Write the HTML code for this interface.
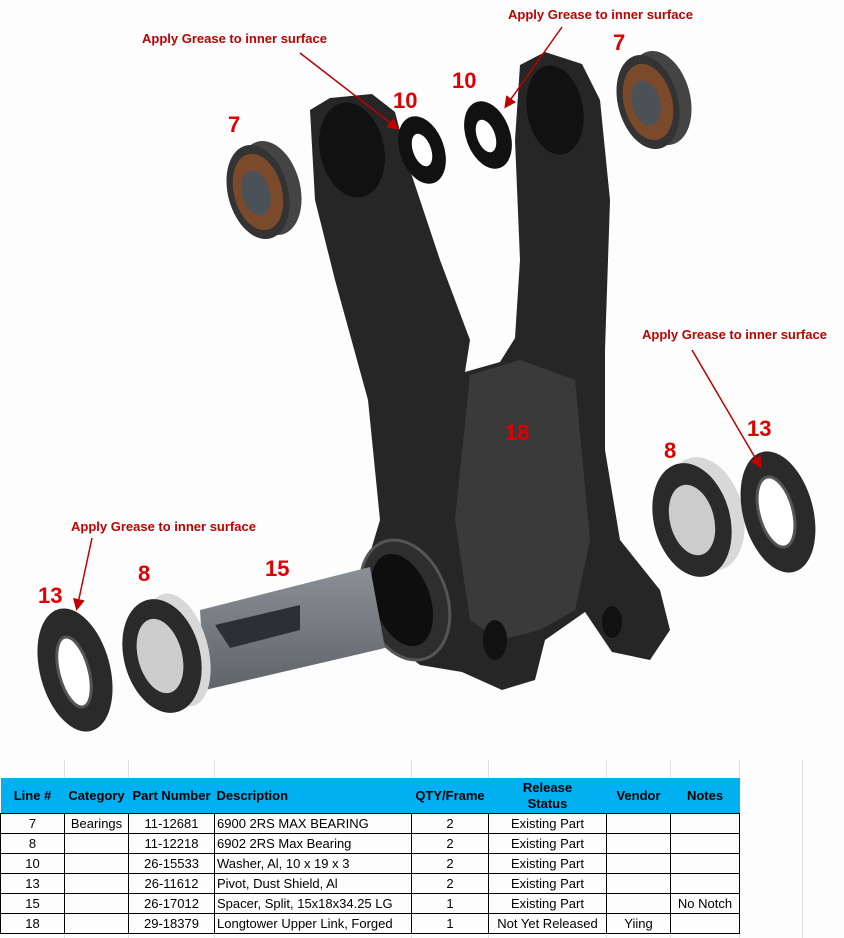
<!DOCTYPE html>
<html><head><meta charset="utf-8"><style>
body{margin:0;width:844px;height:938px;background:#fdfdfe;font-family:"Liberation Sans",sans-serif;overflow:hidden;position:relative}
svg{position:absolute;left:0;top:0}
table{position:absolute;left:0;top:778px;border-collapse:collapse;font-size:13px;table-layout:fixed}
td,th{height:19px;padding:0 2px;border:1px solid #000;white-space:nowrap;overflow:hidden}
th{background:#00b0f0;border:none;font-weight:bold;height:35px;line-height:16px}
.c{text-align:center}
.g{position:absolute;top:760px;height:178px;width:1px;background:#e0e0e0}
</style></head><body>
<svg width="844" height="760" viewBox="0 0 844 760">
<defs>
<marker id="ah" markerWidth="8" markerHeight="8" refX="6" refY="4" orient="auto"><path d="M0,0 L8,4 L0,8 z" fill="#c00000"/></marker>
<linearGradient id="sp" x1="0" y1="0" x2="0" y2="1"><stop offset="0" stop-color="#8a9096"/><stop offset="1" stop-color="#5e646a"/></linearGradient>
</defs>
<!-- link body -->
<path d="M310,110 L330,98 L372,94 L395,112 L410,170 L440,260 L470,340 L465,372 L500,362 L515,338 L520,260 L515,140 L520,65 L545,52 L582,64 L600,100 L610,200 L605,350 L605,450 L620,540 L660,590 L670,630 L650,660 L612,652 L585,612 L545,640 L535,680 L502,690 L462,672 L420,665 L388,640 L368,560 L380,520 L368,400 L335,280 L315,200 Z" fill="#262626"/>
<path d="M470,375 L520,360 L575,380 L590,540 L575,610 L540,630 L500,640 L470,620 L455,520 Z" fill="#3a3a3a"/>
<ellipse cx="352" cy="150" rx="32" ry="48" fill="#111" transform="rotate(-12 352 150)"/>
<ellipse cx="555" cy="110" rx="28" ry="45" fill="#111" transform="rotate(-10 555 110)"/>
<ellipse cx="405" cy="600" rx="42" ry="62" fill="#2e2e2e" stroke="#555" stroke-width="3" transform="rotate(-20 405 600)"/>
<ellipse cx="402" cy="600" rx="28" ry="48" fill="#0e0e0e" transform="rotate(-20 402 600)"/>
<ellipse cx="495" cy="640" rx="12" ry="20" fill="#111"/>
<ellipse cx="612" cy="622" rx="10" ry="16" fill="#111"/>
<!-- spacer 15 -->
<path d="M200,610 L370,567 L385,648 L205,690 Z" fill="url(#sp)"/>
<path d="M215,625 L300,605 L300,630 L230,648 Z" fill="#2c3034"/>
<!-- bearing 7 left -->
<ellipse cx="270" cy="188" rx="30" ry="48" fill="#444" transform="rotate(-15 270 188)"/>
<ellipse cx="258" cy="192" rx="30" ry="48" fill="#333" transform="rotate(-15 258 192)"/>
<ellipse cx="258" cy="192" rx="24" ry="39" fill="#7a4a2a" transform="rotate(-15 258 192)"/>
<ellipse cx="256" cy="193" rx="14" ry="23" fill="#4a5258" transform="rotate(-15 256 193)"/>
<!-- bearing 7 right -->
<ellipse cx="660" cy="98" rx="30" ry="48" fill="#444" transform="rotate(-15 660 98)"/>
<ellipse cx="648" cy="102" rx="30" ry="48" fill="#333" transform="rotate(-15 648 102)"/>
<ellipse cx="648" cy="102" rx="24" ry="39" fill="#7a4a2a" transform="rotate(-15 648 102)"/>
<ellipse cx="646" cy="103" rx="14" ry="23" fill="#4a5258" transform="rotate(-15 646 103)"/>
<!-- washers 10 -->
<ellipse cx="422" cy="150" rx="22" ry="35" fill="#111" transform="rotate(-20 422 150)"/>
<ellipse cx="422" cy="150" rx="9" ry="17" fill="#fff" transform="rotate(-20 422 150)"/>
<ellipse cx="488" cy="135" rx="22" ry="35" fill="#111" transform="rotate(-20 488 135)"/>
<ellipse cx="486" cy="136" rx="9" ry="17" fill="#fff" transform="rotate(-20 486 136)"/>
<!-- bearing 8 right -->
<ellipse cx="705" cy="514" rx="38" ry="58" fill="#d8d8d8" transform="rotate(-15 705 514)"/>
<ellipse cx="692" cy="520" rx="38" ry="58" fill="#2a2a2a" transform="rotate(-15 692 520)"/>
<ellipse cx="692" cy="520" rx="22" ry="36" fill="#ccc" transform="rotate(-15 692 520)"/>
<!-- 13 right -->
<ellipse cx="778" cy="512" rx="35" ry="62" fill="#2a2a2a" transform="rotate(-15 778 512)"/>
<ellipse cx="776" cy="512" rx="17" ry="36" fill="#fff" stroke="#555" stroke-width="3" transform="rotate(-15 776 512)"/>
<!-- bearing 8 left -->
<ellipse cx="178" cy="650" rx="30" ry="58" fill="#d8d8d8" transform="rotate(-15 178 650)"/>
<ellipse cx="162" cy="656" rx="38" ry="58" fill="#2a2a2a" transform="rotate(-15 162 656)"/>
<ellipse cx="160" cy="656" rx="22" ry="38" fill="#ccc" transform="rotate(-15 160 656)"/>
<!-- 13 left -->
<ellipse cx="75" cy="670" rx="35" ry="63" fill="#2a2a2a" transform="rotate(-15 75 670)"/>
<ellipse cx="74" cy="672" rx="15" ry="36" fill="#fff" stroke="#555" stroke-width="3" transform="rotate(-15 74 672)"/>
<!-- arrows -->
<g stroke="#c00000" stroke-width="1.5" marker-end="url(#ah)">
<line x1="300" y1="53" x2="397" y2="128"/>
<line x1="562" y1="27" x2="506" y2="106"/>
<line x1="692" y1="350" x2="760" y2="466"/>
<line x1="92" y1="538" x2="77" y2="608"/>
</g>
<g fill="#c00000" font-weight="bold" font-size="13">
<text x="142" y="43">Apply Grease to inner surface</text>
<text x="508" y="19">Apply Grease to inner surface</text>
<text x="642" y="339">Apply Grease to inner surface</text>
<text x="71" y="531">Apply Grease to inner surface</text>
</g>
<g fill="#e00000" font-weight="bold" font-size="22">
<text x="228" y="132">7</text><text x="393" y="108">10</text><text x="452" y="88">10</text>
<text x="613" y="50">7</text><text x="505" y="440">18</text><text x="664" y="458">8</text>
<text x="747" y="436">13</text><text x="38" y="603">13</text><text x="138" y="581">8</text><text x="265" y="576">15</text>
</g>
</svg>
<div class="g" style="left:64px"></div><div class="g" style="left:128px"></div><div class="g" style="left:214px"></div><div class="g" style="left:411px"></div><div class="g" style="left:488px"></div><div class="g" style="left:606px"></div><div class="g" style="left:670px"></div><div class="g" style="left:739px"></div><div class="g" style="left:802px"></div>
<table>
<colgroup><col style="width:64px"><col style="width:64px"><col style="width:86px"><col style="width:197px"><col style="width:77px"><col style="width:118px"><col style="width:64px"><col style="width:69px"></colgroup>
<tr><th class="c">Line #</th><th class="c">Category</th><th class="c">Part Number</th><th style="text-align:left">Description</th><th class="c">QTY/Frame</th><th class="c">Release<br>Status</th><th class="c">Vendor</th><th class="c">Notes</th></tr>
<tr><td class="c">7</td><td class="c">Bearings</td><td class="c">11-12681</td><td>6900 2RS MAX BEARING</td><td class="c">2</td><td class="c">Existing Part</td><td></td><td></td></tr>
<tr><td class="c">8</td><td></td><td class="c">11-12218</td><td>6902 2RS Max Bearing</td><td class="c">2</td><td class="c">Existing Part</td><td></td><td></td></tr>
<tr><td class="c">10</td><td></td><td class="c">26-15533</td><td>Washer, Al, 10 x 19 x 3</td><td class="c">2</td><td class="c">Existing Part</td><td></td><td></td></tr>
<tr><td class="c">13</td><td></td><td class="c">26-11612</td><td>Pivot, Dust Shield, Al</td><td class="c">2</td><td class="c">Existing Part</td><td></td><td></td></tr>
<tr><td class="c">15</td><td></td><td class="c">26-17012</td><td>Spacer, Split, 15x18x34.25 LG</td><td class="c">1</td><td class="c">Existing Part</td><td></td><td class="c">No Notch</td></tr>
<tr><td class="c">18</td><td></td><td class="c">29-18379</td><td>Longtower Upper Link, Forged</td><td class="c">1</td><td class="c">Not Yet Released</td><td class="c">Yiing</td><td></td></tr>
</table>
</body></html>
